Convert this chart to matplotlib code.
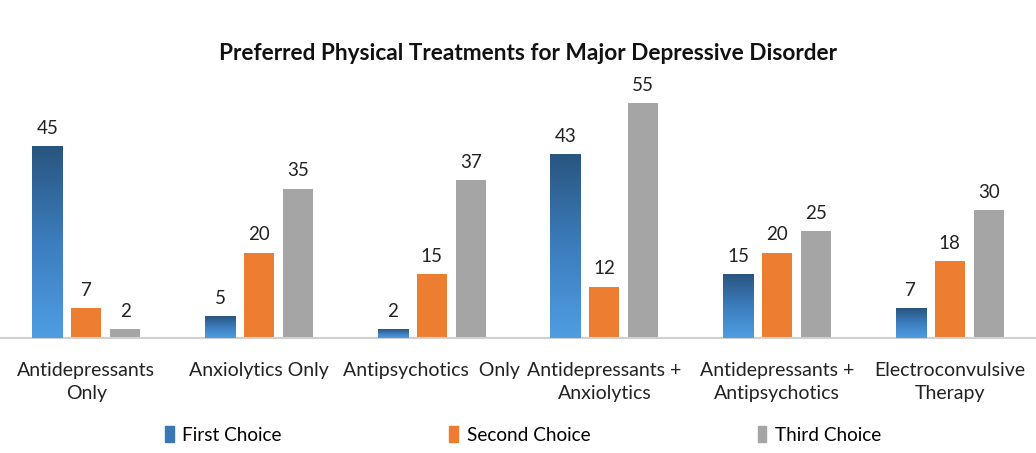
import matplotlib
matplotlib.use('Agg')
import matplotlib.pyplot as plt
from matplotlib.colors import LinearSegmentedColormap
from matplotlib.patches import Patch
import numpy as np

plt.rcParams['font.family'] = ['Lato', 'DejaVu Sans']

categories = ['Antidepressants\nOnly', 'Anxiolytics Only', 'Antipsychotics  Only',
              'Antidepressants +\nAnxiolytics', 'Antidepressants +\nAntipsychotics',
              'Electroconvulsive\nTherapy']
first_choice = [45, 5, 2, 43, 15, 7]
second_choice = [7, 20, 15, 12, 20, 18]
third_choice = [2, 35, 37, 55, 25, 30]
series_names = ['First Choice', 'Second Choice', 'Third Choice']

blue_grad = LinearSegmentedColormap.from_list('bg', ['#4f9de2', '#3c7dbd', '#29557f'])
orange = '#ed7d31'
gray = '#a5a5a5'

fig = plt.figure(figsize=(10.36, 4.53), dpi=100)
ax = fig.add_axes([0, 0.254, 1, 0.565])

x = np.arange(len(categories))
w = 0.174
off = 0.226

b1 = ax.bar(x - off, first_choice, w, color='#3c7dbd', zorder=2)
b2 = ax.bar(x, second_choice, w, color=orange, zorder=2)
b3 = ax.bar(x + off, third_choice, w, color=gray, zorder=2)

# vertical gradient on the first series
grad = np.linspace(0, 1, 256).reshape(-1, 1)
for r in b1:
    x0, h = r.get_x(), r.get_height()
    ax.imshow(grad, cmap=blue_grad, origin='lower', aspect='auto',
              extent=[x0, x0 + r.get_width(), 0, h], zorder=3)

ax.set_xlim(-0.5, len(categories) - 0.5)
ax.set_ylim(0, 60)

for bars in (b1, b2, b3):
    for r in bars:
        ax.text(r.get_x() + r.get_width() / 2, r.get_height() + 2.2,
                f'{int(r.get_height())}', ha='center', va='bottom',
                fontsize=13.5, color='#222222')

for s in ['top', 'right', 'left']:
    ax.spines[s].set_visible(False)
ax.spines['bottom'].set_color('#d0d0d0')
ax.spines['bottom'].set_linewidth(1.5)
ax.set_yticks([])
ax.set_xticks(x)
ax.set_xticklabels(categories, fontsize=14, color='#222222', linespacing=1.45)
ax.tick_params(axis='x', length=0, pad=17)

fig.text(0.51, 0.882, 'Preferred Physical Treatments for Major Depressive Disorder',
         ha='center', va='center', fontsize=16.3, fontweight='bold', color='#111111')

handles = [Patch(color='#3a78b5'), Patch(color=orange), Patch(color=gray)]
fig.legend(handles, series_names, loc='center', bbox_to_anchor=(0.505, 0.04),
           ncol=3, frameon=False, fontsize=13.7, handlelength=0.45, handleheight=0.9,
           handletextpad=0.45, columnspacing=8.8)

fig.savefig('out.png', dpi=100)
